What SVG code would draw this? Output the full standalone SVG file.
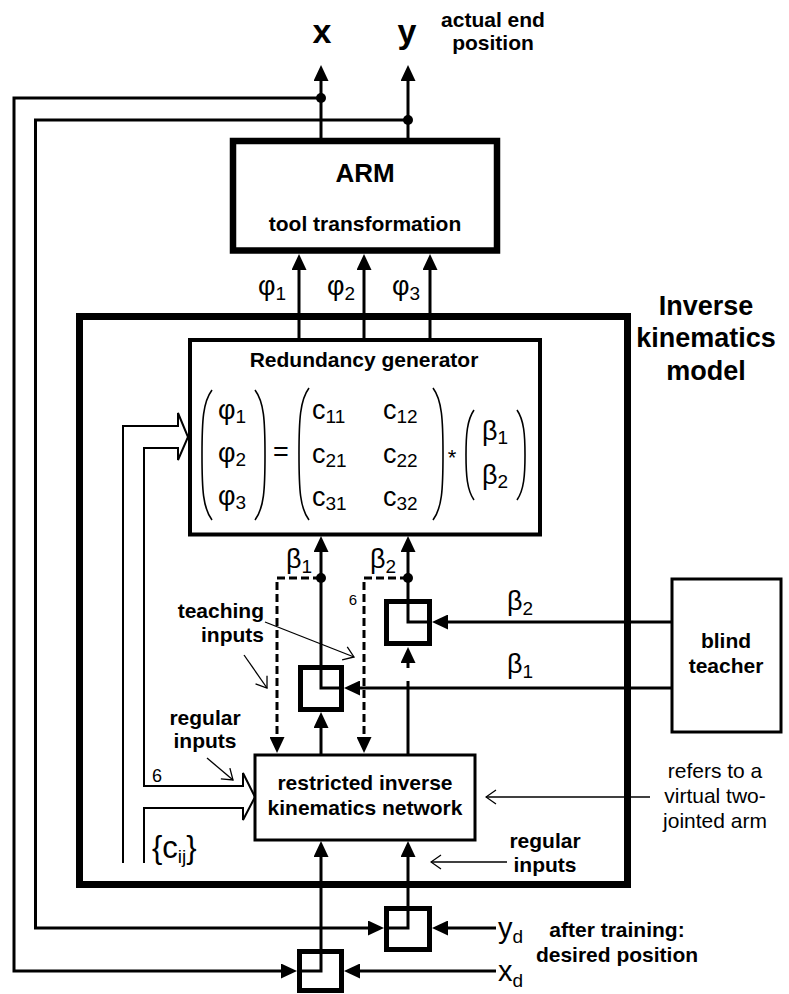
<svg xmlns="http://www.w3.org/2000/svg" width="789" height="994" viewBox="0 0 789 994">
<defs>
<marker id="ah" markerUnits="userSpaceOnUse" markerWidth="16" markerHeight="15" viewBox="0 0 16 15" refX="8" refY="7.5" orient="auto"><path d="M0,0 L16,7.5 L0,15 z" fill="#000"/></marker>
<marker id="oa" markerUnits="userSpaceOnUse" markerWidth="12" markerHeight="16" viewBox="-1 -1 12 16" refX="10" refY="7" orient="auto"><path d="M0,0 L10,7 L0,14" fill="none" stroke="#000" stroke-width="1.3"/></marker>
</defs>
<style>
.ln{fill:none;stroke:#000;stroke-width:3}
.arr{marker-end:url(#ah)}
.dash{stroke-dasharray:8 4}
.thin{fill:none;stroke:#000;stroke-width:1.3;marker-end:url(#oa)}
.box{fill:none;stroke:#000}
.par{fill:none;stroke:#000;stroke-width:1.6}
.b{font-family:"Liberation Sans",Arial,sans-serif;font-weight:bold;font-size:21px;text-anchor:middle}
.n{font-family:"Liberation Sans",Arial,sans-serif;font-size:21px;text-anchor:middle}
.m{font-family:"Liberation Sans",Arial,sans-serif;font-size:27px}
.s{font-size:19px}
</style>
<rect width="789" height="994" fill="#fff"/>

<g id="ik-model">
<rect class="box" x="79.5" y="316.5" width="548" height="568" stroke-width="7"/>
<text class="b" style="font-size:27px" x="706" y="315">Inverse</text>
<text class="b" style="font-size:27px" x="706" y="347">kinematics</text>
<text class="b" style="font-size:27px" x="706" y="380">model</text>
</g>

<g id="arm">
<rect class="box" x="233" y="141" width="264" height="109.5" stroke-width="6.5"/>
<text class="b" style="font-size:26px" x="365" y="182">ARM</text>
<text class="b" x="365" y="231">tool transformation</text>
</g>

<g id="redundancy">
<rect class="box" x="190" y="340" width="350" height="194.5" stroke-width="4"/>
<text class="b" x="364" y="367">Redundancy generator</text>
<path class="par" d="M212,390 C203,402 202,420 202,455 C202,490 203,508 212,520"/>
<path class="par" d="M255,390 C264,402 265,420 265,455 C265,490 264,508 255,520"/>
<text class="m" x="218" y="419">φ<tspan class="s" dy="4">1</tspan></text>
<text class="m" x="218" y="462">φ<tspan class="s" dy="4">2</tspan></text>
<text class="m" x="218" y="505">φ<tspan class="s" dy="4">3</tspan></text>
<text class="m" x="281" y="461" text-anchor="middle">=</text>
<path class="par" d="M309,388 C300,400 299,420 299,454 C299,490 300,508 309,520"/>
<path class="par" d="M433,388 C442,400 443,420 443,454 C443,490 442,508 433,520"/>
<text class="m" x="312" y="419">c<tspan class="s" dy="4">11</tspan></text>
<text class="m" x="383" y="419">c<tspan class="s" dy="4">12</tspan></text>
<text class="m" x="312" y="463">c<tspan class="s" dy="4">21</tspan></text>
<text class="m" x="383" y="463">c<tspan class="s" dy="4">22</tspan></text>
<text class="m" x="312" y="506">c<tspan class="s" dy="4">31</tspan></text>
<text class="m" x="383" y="506">c<tspan class="s" dy="4">32</tspan></text>
<text class="m" style="font-size:22px" x="452" y="465" text-anchor="middle">*</text>
<path class="par" d="M474,410 C467,420 466,435 466,455 C466,475 467,490 474,500"/>
<path class="par" d="M517,410 C524,420 525,435 525,455 C525,475 524,490 517,500"/>
<text class="m" x="482" y="440">β<tspan class="s" dy="4">1</tspan></text>
<text class="m" x="482" y="484">β<tspan class="s" dy="4">2</tspan></text>
</g>

<g id="restricted-network">
<rect class="box" x="255" y="755" width="220" height="85" stroke-width="3"/>
<text class="b" x="365" y="790">restricted inverse</text>
<text class="b" x="365" y="815">kinematics network</text>
</g>

<g id="blind-teacher">
<rect class="box" x="672" y="579" width="109" height="153" stroke-width="3"/>
<text class="b" x="726" y="648">blind</text>
<text class="b" x="726" y="673">teacher</text>
</g>

<g id="switch-b1"><rect class="box" x="300.5" y="667.5" width="41" height="42" stroke-width="5"/></g>
<g id="switch-b2"><rect class="box" x="386.5" y="601.5" width="43" height="42" stroke-width="5"/></g>
<g id="switch-y"><rect class="box" x="386.5" y="908.5" width="43" height="41" stroke-width="5"/></g>
<g id="switch-x"><rect class="box" x="299.5" y="951.5" width="42" height="39" stroke-width="5"/></g>

<g id="connectors">
<path class="ln arr" d="M321,138 L321,73"/>
<path class="ln arr" d="M408,138 L408,73"/>
<path class="ln arr" d="M321,98 L14,98 L14,971 L289,971"/>
<path class="ln arr" d="M408,120 L35.5,120 L35.5,928 L376,928"/>
<circle cx="321" cy="98" r="5"/>
<circle cx="408" cy="120" r="5"/>
<path class="ln arr" d="M299,338 L299,262"/>
<path class="ln arr" d="M364,338 L364,262"/>
<path class="ln arr" d="M430,338 L430,262"/>
<path class="ln arr" d="M342,688 L321,688 L321,544"/>
<path class="ln arr" d="M430,622 L408,622 L408,544"/>
<circle cx="321" cy="578" r="5"/>
<circle cx="408" cy="578" r="5"/>
<path class="ln arr dash" d="M321,578 L277,578 L277,745"/>
<path class="ln arr dash" d="M408,578 L364,578 L364,745"/>
<path class="ln arr" d="M321,754 L321,720"/>
<path class="ln" d="M408,754 L408,681"/>
<path class="ln arr" d="M408,668 L408,655"/>
<path class="ln arr" d="M672,622 L440,622"/>
<path class="ln arr" d="M672,688 L352,688"/>
<path class="ln arr" d="M384,928 L408,928 L408,849"/>
<path class="ln arr" d="M297,971 L321,971 L321,849"/>
<path class="ln arr" d="M496,928 L440,928"/>
<path class="ln arr" d="M496,971 L352,971"/>
<path fill="none" stroke="#000" stroke-width="2" d="M123,863 L123,426 L178,426 L178,413 L188,437 L178,460 L178,448 L144,448 L144,786 L243,786 L243,773 L255,797 L243,820 L243,808 L144,808 L144,863"/>
<path class="thin" d="M265,622 L354,657"/>
<path class="thin" d="M244,655 L267,688"/>
<path class="thin" d="M207,758 L233,780"/>
<path class="thin" d="M650,797 L486,797"/>
<path class="thin" d="M507,862 L431,862"/>
</g>

<g id="labels">
<text class="b" style="font-size:34px" x="322" y="43">x</text>
<text class="b" style="font-size:34px" x="407" y="43">y</text>
<text class="b" x="493" y="27">actual end</text>
<text class="b" x="493" y="50">position</text>
<text class="m" x="258" y="295">φ<tspan class="s" dy="5">1</tspan></text>
<text class="m" x="327" y="295">φ<tspan class="s" dy="5">2</tspan></text>
<text class="m" x="392" y="295">φ<tspan class="s" dy="5">3</tspan></text>
<text class="m" x="286" y="568">β<tspan class="s" dy="5">1</tspan></text>
<text class="m" x="370" y="568">β<tspan class="s" dy="5">2</tspan></text>
<text class="m" x="507" y="610">β<tspan class="s" dy="5">2</tspan></text>
<text class="m" x="507" y="673">β<tspan class="s" dy="5">1</tspan></text>
<text class="n" style="font-size:15px" x="353" y="605">6</text>
<text class="n" style="font-size:18px" x="157" y="782">6</text>
<text class="b" style="text-anchor:end" x="264" y="618">teaching</text>
<text class="b" style="text-anchor:end" x="264" y="642">inputs</text>
<text class="b" x="205" y="725">regular</text>
<text class="b" x="205" y="748">inputs</text>
<text class="m" style="font-size:31px" x="152" y="858">{c<tspan class="s" dy="5">ij</tspan><tspan dy="-5">}</tspan></text>
<text class="n" x="715" y="778">refers to a</text>
<text class="n" x="715" y="803">virtual two-</text>
<text class="n" x="715" y="828">jointed arm</text>
<text class="b" x="545" y="848">regular</text>
<text class="b" x="545" y="872">inputs</text>
<text class="m" style="font-size:29px" x="498" y="938">y<tspan class="s" dy="5">d</tspan></text>
<text class="m" style="font-size:29px" x="498" y="981">x<tspan class="s" dy="6">d</tspan></text>
<text class="b" x="617" y="937">after training:</text>
<text class="b" x="617" y="962">desired position</text>
</g>
</svg>
